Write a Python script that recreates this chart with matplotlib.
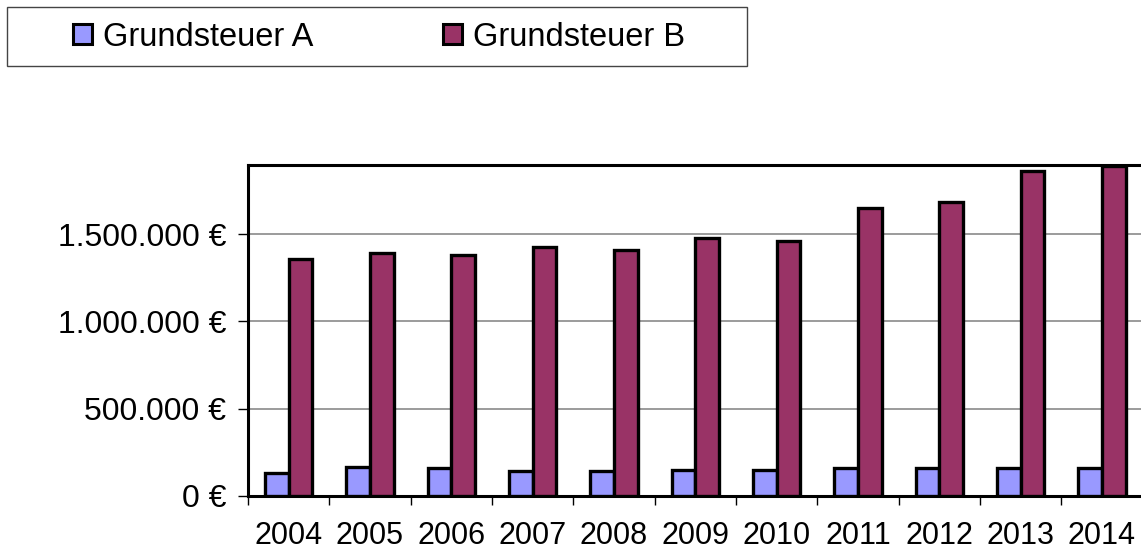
import matplotlib
matplotlib.use("Agg")
import matplotlib.pyplot as plt
from matplotlib.patches import Rectangle
import numpy as np

years = ["2004", "2005", "2006", "2007", "2008", "2009", "2010", "2011", "2012", "2013", "2014"]
grundsteuer_a = [132000, 165000, 157000, 142000, 142000, 146000, 146000, 157000, 157000, 158000, 158000]
grundsteuer_b = [1358000, 1391000, 1381000, 1427000, 1412000, 1477000, 1464000, 1651000, 1684000, 1864000, 1895000]
series_names = ["Grundsteuer A", "Grundsteuer B"]
y_ticks = [0, 500000, 1000000, 1500000]

color_a = "#9999FF"
color_b = "#993366"

plt.rcParams['font.family'] = ['Liberation Sans', 'DejaVu Sans']

W, H = 1141, 551
fig = plt.figure(figsize=(W / 100, H / 100), dpi=100)
ax_left, ax_right, ax_top, ax_bottom = 248, 1142.6, 164.7, 495.7
ax = fig.add_axes([ax_left / W, (H - ax_bottom) / H, (ax_right - ax_left) / W, (ax_bottom - ax_top) / H])

x = np.arange(len(years))
bw = 0.29
edge_lw = 2.4
bars_a = ax.bar(x - bw / 2, grundsteuer_a, width=bw, color=color_a, edgecolor="black", linewidth=edge_lw, zorder=3, label=series_names[0])
bars_b = ax.bar(x + bw / 2, grundsteuer_b, width=bw, color=color_b, edgecolor="black", linewidth=edge_lw, zorder=3, label=series_names[1])

ax.set_xlim(-0.5, len(years) - 0.5)
ax.set_ylim(0, 1900000)

ax.set_yticks(y_ticks)
ax.set_yticklabels([f"{v:,.0f}".replace(",", ".") + " €" for v in y_ticks], fontsize=23)
ax.yaxis.grid(True, color="#808080", linewidth=1.1, zorder=0)
ax.set_axisbelow(True)

ax.set_xticks(np.arange(-0.5, len(years), 1.0))
ax.set_xticklabels([])
ax.set_xticks(x, minor=True)
ax.set_xticklabels(years, minor=True, fontsize=22)
ax.tick_params(axis="x", which="major", length=6.5, width=1.0, direction="out", color="black")
ax.tick_params(axis="x", which="minor", length=0, pad=18.5)
ax.tick_params(axis="y", length=7, width=1.0, direction="out", pad=8.5)

for s in ["left", "top", "bottom", "right"]:
    ax.spines[s].set_linewidth(2.2)
    ax.spines[s].set_color("black")

# legend frame
frame = Rectangle((7.3 / W, 1 - 66 / H), (746.7 - 7.3) / W, (66 - 7.3) / H, transform=fig.transFigure,
                  facecolor="white", edgecolor="#444444", linewidth=1.0)
fig.add_artist(frame)
leg = fig.legend(handles=[bars_a, bars_b], labels=series_names, ncol=2, loc="center left",
                 bbox_to_anchor=(72.7 / W, 1 - 37 / H), frameon=False, fontsize=23.5,
                 borderpad=0, borderaxespad=0, handlelength=0.58, handleheight=0.58,
                 handletextpad=0.34, columnspacing=3.98)
for h in leg.legend_handles:
    h.set_linewidth(2.2)

fig.savefig("out.png", dpi=100)
